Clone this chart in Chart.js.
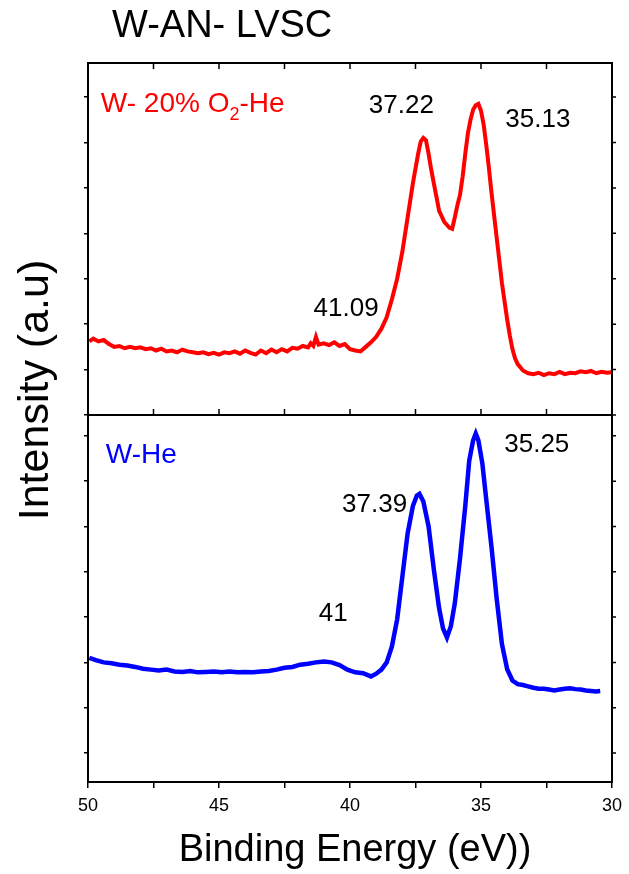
<!DOCTYPE html>
<html>
<head>
<meta charset="utf-8">
<script src="https://cdn.jsdelivr.net/npm/chart.js@4.4.1/dist/chart.umd.min.js"></script>
<style>
  html, body { margin: 0; padding: 0; background: #fff; }
  #wrap { width: 629px; height: 874px; }
</style>
</head>
<body>
<div id="wrap"><canvas id="myChart" width="629" height="874"></canvas></div>
<script>
// spettro W- 20% O2-He (pannello in alto)
const redEnergy = [49.95, 49.8, 49.6, 49.4, 49.2, 49.0, 48.8, 48.6, 48.4, 48.2, 48.0, 47.8, 47.6, 47.4, 47.2, 47.0,
  46.8, 46.6, 46.4, 46.2, 46.0, 45.8, 45.6, 45.4, 45.2, 45.0, 44.8, 44.6, 44.4, 44.2, 44.0, 43.8, 43.6, 43.4,
  43.2, 43.0, 42.8, 42.6, 42.4, 42.2, 42.0, 41.8, 41.6, 41.5, 41.4, 41.3, 41.2, 41.0, 40.8, 40.6, 40.4, 40.2,
  40.0, 39.8, 39.6, 39.4, 39.2, 39.0, 38.8, 38.6, 38.4, 38.2, 38.0, 37.8, 37.6, 37.4, 37.3, 37.2, 37.1, 37.0,
  36.9, 36.8, 36.7, 36.6, 36.4, 36.2, 36.1, 36.0, 35.9, 35.8, 35.7, 35.6, 35.5, 35.4, 35.3, 35.2, 35.1, 35.0,
  34.9, 34.8, 34.7, 34.6, 34.5, 34.4, 34.3, 34.2, 34.1, 34.0, 33.9, 33.8, 33.7, 33.6, 33.5, 33.4, 33.2, 33.0,
  32.8, 32.6, 32.4, 32.2, 32.0, 31.8, 31.6, 31.4, 31.2, 31.0, 30.8, 30.6, 30.4, 30.2, 30.0];
const redIntensity = [1.62, 1.68, 1.62, 1.65, 1.56, 1.50, 1.52, 1.47, 1.50, 1.47, 1.49, 1.45, 1.47, 1.42, 1.46, 1.40,
  1.42, 1.38, 1.44, 1.40, 1.38, 1.36, 1.38, 1.34, 1.37, 1.33, 1.38, 1.36, 1.40, 1.35, 1.42, 1.37, 1.33, 1.42,
  1.36, 1.44, 1.38, 1.45, 1.40, 1.48, 1.46, 1.52, 1.49, 1.58, 1.52, 1.72, 1.55, 1.58, 1.54, 1.60, 1.52, 1.56,
  1.45, 1.42, 1.40, 1.50, 1.60, 1.72, 1.90, 2.15, 2.55, 3.00, 3.60, 4.35, 5.10, 5.75, 6.02, 6.10, 6.05, 5.75,
  5.40, 5.10, 4.80, 4.50, 4.25, 4.12, 4.10, 4.35, 4.62, 4.85, 5.25, 5.75, 6.20, 6.50, 6.72, 6.82, 6.85, 6.70,
  6.40, 5.95, 5.45, 4.90, 4.40, 3.90, 3.40, 2.90, 2.50, 2.10, 1.75, 1.45, 1.25, 1.12, 1.05, 0.98, 0.92, 0.90,
  0.93, 0.88, 0.92, 0.90, 0.95, 0.90, 0.93, 0.92, 0.96, 0.94, 0.97, 0.92, 0.95, 0.93, 0.94];

// spettro W-He (pannello in basso)
const blueEnergy = [49.95, 49.7, 49.4, 49.1, 48.8, 48.5, 48.2, 47.9, 47.6, 47.3, 47.0, 46.7, 46.4, 46.1, 45.8, 45.5,
  45.2, 44.9, 44.6, 44.3, 44.0, 43.7, 43.4, 43.1, 42.8, 42.5, 42.2, 41.9, 41.6, 41.3, 41.0, 40.7, 40.4, 40.1,
  39.8, 39.5, 39.2, 39.0, 38.8, 38.6, 38.4, 38.2, 38.0, 37.8, 37.6, 37.45, 37.35, 37.2, 37.0, 36.8, 36.6, 36.45,
  36.3, 36.15, 36.0, 35.8, 35.6, 35.45, 35.3, 35.2, 35.1, 34.95, 34.8, 34.6, 34.4, 34.2, 34.0, 33.8, 33.6, 33.4,
  33.2, 33.0, 32.8, 32.6, 32.4, 32.2, 32.0, 31.8, 31.6, 31.4, 31.2, 31.0, 30.8, 30.6, 30.45];
const blueIntensity = [2.10, 2.05, 2.00, 1.98, 1.95, 1.93, 1.90, 1.86, 1.84, 1.82, 1.84, 1.80, 1.79, 1.81, 1.78, 1.79,
  1.80, 1.78, 1.80, 1.78, 1.79, 1.78, 1.80, 1.81, 1.84, 1.88, 1.90, 1.95, 1.97, 2.00, 2.02, 2.00, 1.94, 1.84,
  1.78, 1.76, 1.69, 1.75, 1.84, 2.00, 2.35, 2.95, 3.90, 4.85, 5.45, 5.68, 5.72, 5.55, 5.00, 4.05, 3.20, 2.75,
  2.55, 2.80, 3.30, 4.30, 5.45, 6.45, 6.90, 7.05, 6.90, 6.40, 5.60, 4.55, 3.40, 2.40, 1.85, 1.60, 1.52, 1.50,
  1.47, 1.44, 1.42, 1.42, 1.40, 1.38, 1.40, 1.42, 1.43, 1.41, 1.40, 1.38, 1.37, 1.36, 1.37];

// tick degli assi
const xMajorTicks = [50, 45, 40, 35, 30];
const topTicks = [0, 1, 2, 3, 4, 5, 6, 7];
const bottomTicks = [0, 1, 2, 3, 4, 5, 6, 7];

// etichette dei picchi (posizione in coordinate dei dati)
const topPeakText = ['37.22', '35.13', '41.09'];
const topPeakE = [38.04, 32.83, 40.15];
const topPeakI = [6.81, 6.50, 2.33];
const bottomPeakText = ['35.25', '37.39', '41'];
const bottomPeakE = [32.87, 39.06, 40.64];
const bottomPeakI = [6.80, 5.47, 3.07];

const FONT = "'Liberation Sans', Arial, sans-serif";

// disegna cornice, tick speculari e tutti i testi
const frame = {
  id: 'frame',
  afterDraw(chart) {
    const ctx = chart.ctx;
    const a = chart.chartArea;
    const x = chart.scales.x, yt = chart.scales.yTop, yb = chart.scales.yBot;
    ctx.save();
    ctx.strokeStyle = '#000';
    ctx.lineWidth = 2;
    ctx.strokeRect(a.left, a.top, a.right - a.left, a.bottom - a.top);
    ctx.beginPath();
    ctx.moveTo(a.left, yt.bottom);
    ctx.lineTo(a.right, yt.bottom);
    ctx.stroke();

    ctx.lineWidth = 1.5;
    ctx.beginPath();
    x.ticks.forEach(t => {
      const px = x.getPixelForValue(t.value);
      ctx.moveTo(px, a.top); ctx.lineTo(px, a.top + 6);
      ctx.moveTo(px, yt.bottom); ctx.lineTo(px, yt.bottom - 6);
    });
    [yt, yb].forEach(s => s.ticks.forEach(t => {
      const py = s.getPixelForValue(t.value);
      ctx.moveTo(a.right, py); ctx.lineTo(a.right + 4, py);
    }));
    ctx.stroke();

    ctx.fillStyle = '#000';
    ctx.textBaseline = 'alphabetic';
    ctx.textAlign = 'left';
    ctx.font = '38px ' + FONT;
    ctx.fillText('W-AN- LVSC', 112, 37);

    ctx.textAlign = 'center';
    ctx.font = '38px ' + FONT;
    ctx.fillText('Binding Energy (eV))', 355, 861);

    ctx.save();
    ctx.translate(48, 390);
    ctx.rotate(-Math.PI / 2);
    ctx.font = '43px ' + FONT;
    ctx.fillText('Intensity (a.u)', 0, 0);
    ctx.restore();

    // numeri dei picchi
    ctx.font = '26px ' + FONT;
    ctx.textBaseline = 'middle';
    topPeakText.forEach((s, i) => {
      ctx.fillText(s, x.getPixelForValue(topPeakE[i]), yt.getPixelForValue(topPeakI[i]));
    });
    bottomPeakText.forEach((s, i) => {
      ctx.fillText(s, x.getPixelForValue(bottomPeakE[i]), yb.getPixelForValue(bottomPeakI[i]));
    });

    // etichette delle serie
    ctx.textAlign = 'left';
    ctx.textBaseline = 'alphabetic';
    let lx = x.getPixelForValue(49.51);
    const ly = yt.getPixelForValue(6.67);
    ctx.fillStyle = '#ff0000';
    ctx.font = '28px ' + FONT;
    ctx.fillText('W- 20% O', lx, ly);
    lx += ctx.measureText('W- 20% O').width;
    ctx.font = '18px ' + FONT;
    ctx.fillText('2', lx, ly + 8);
    lx += ctx.measureText('2').width;
    ctx.font = '28px ' + FONT;
    ctx.fillText('-He', lx, ly);

    ctx.fillStyle = '#0000ff';
    ctx.fillText('W-He', x.getPixelForValue(49.32), yb.getPixelForValue(6.40));
    ctx.restore();
  }
};

const yGrid = { drawOnChartArea: false, drawTicks: true, tickLength: 4, color: '#000', lineWidth: 1.5 };

let ctx = document.getElementById('myChart').getContext('2d');
let myChart = new Chart(ctx, {
  type: 'line',
  data: {
    datasets: [{
      data: redEnergy.map((e, i) => ({ x: e, y: redIntensity[i] })),
      yAxisID: 'yTop',
      borderColor: '#ff0000',
      borderWidth: 4,
      pointRadius: 0,
      tension: 0,
      fill: false
    }, {
      data: blueEnergy.map((e, i) => ({ x: e, y: blueIntensity[i] })),
      yAxisID: 'yBot',
      borderColor: '#0000ff',
      borderWidth: 4.5,
      pointRadius: 0,
      tension: 0,
      fill: false
    }]
  },
  options: {
    responsive: false,
    animation: false,
    events: [],
    layout: { padding: { top: 63, right: 11, left: 0, bottom: 0 } },
    plugins: { legend: { display: false }, tooltip: { enabled: false } },
    scales: {
      x: {
        type: 'linear',
        reverse: true,
        min: 30,
        max: 50,
        afterFit: s => { s.height = 92; },
        ticks: {
          stepSize: 2.5,
          autoSkip: false,
          maxRotation: 0,
          padding: 7,
          color: '#000',
          font: { size: 18, family: FONT },
          callback: v => xMajorTicks.includes(v) ? String(v) : ''
        },
        grid: { drawOnChartArea: false, tickLength: 6, color: '#000', lineWidth: 1.5 },
        border: { color: '#000', width: 2 }
      },
      yBot: {
        type: 'linear',
        position: 'left',
        stack: 'panels',
        stackWeight: 367,
        min: -0.64,
        max: 7.46,
        afterFit: s => { s.width = 88; },
        afterBuildTicks: s => { s.ticks = bottomTicks.map(v => ({ value: v })); },
        ticks: { callback: () => '', autoSkip: false },
        grid: yGrid,
        border: { color: '#000', width: 2 }
      },
      yTop: {
        type: 'linear',
        position: 'left',
        stack: 'panels',
        stackWeight: 352,
        min: 0,
        max: 7.75,
        afterFit: s => { s.width = 88; },
        afterBuildTicks: s => { s.ticks = topTicks.map(v => ({ value: v })); },
        ticks: { callback: () => '', autoSkip: false },
        grid: yGrid,
        border: { color: '#000', width: 2 }
      }
    }
  },
  plugins: [frame]
});
</script>
</body>
</html>
